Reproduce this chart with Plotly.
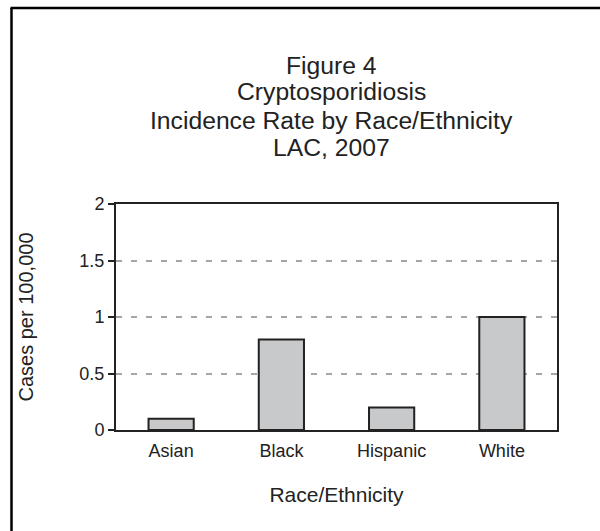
import plotly.graph_objects as go

categories = ["Asian", "Black", "Hispanic", "White"]
rates = [0.1, 0.8, 0.2, 1.0]
y_ticks = [0, 0.5, 1, 1.5, 2]
y_tick_labels = ["0", "0.5", "1", "1.5", "2"]
title_lines = ["Figure 4", "Cryptosporidiosis", "Incidence Rate by Race/Ethnicity", "LAC, 2007"]
title_line_y = [65, 92, 120, 147]  # pixel centers of the title lines

W, H = 600, 531
L, R, T, B = 116, 557, 204, 430
pw, ph = R - L, B - T

def px(x):
    return (x - L) / pw

def py(y):
    return (B - y) / ph

FONT = "Liberation Sans, Arial, sans-serif"
TXT = "#222222"

fig = go.Figure(
    go.Bar(
        x=categories,
        y=rates,
        width=0.41,
        marker=dict(color="#c8c9cb", line=dict(color="#222222", width=2)),
    )
)

annotations = [
    dict(text=t, x=px(331), y=py(yc), xref="paper", yref="paper",
         xanchor="center", yanchor="middle", showarrow=False,
         font=dict(size=24.7, family=FONT, color=TXT))
    for t, yc in zip(title_lines, title_line_y)
]

fig.update_layout(
    width=W,
    height=H,
    margin=dict(l=L, r=W - R, t=T, b=H - B),
    paper_bgcolor="white",
    plot_bgcolor="white",
    showlegend=False,
    font=dict(family=FONT, color=TXT),
    annotations=annotations,
    xaxis=dict(
        showline=True,
        linecolor="#222222",
        linewidth=2,
        mirror=True,
        ticks="",
        showgrid=False,
        tickfont=dict(size=18, color=TXT),
        ticklabelstandoff=3,
        title=dict(text="Race/Ethnicity", font=dict(size=21, color=TXT), standoff=28),
    ),
    yaxis=dict(
        range=[0, 2],
        tickvals=y_ticks,
        ticktext=y_tick_labels,
        showline=True,
        linecolor="#222222",
        linewidth=2,
        mirror=True,
        ticks="outside",
        ticklen=6,
        tickwidth=2,
        tickcolor="#222222",
        showgrid=True,
        gridcolor="#a6a6a6",
        gridwidth=2,
        griddash="6px,9px",
        zeroline=False,
        tickfont=dict(size=18, color=TXT),
        title=dict(text="Cases per 100,000", font=dict(size=20, color=TXT), standoff=40),
    ),
    shapes=[
        dict(type="line", xref="paper", yref="paper",
             x0=px(11.5), x1=px(11.5), y0=py(540), y1=py(8),
             line=dict(color="black", width=2.5)),
        dict(type="line", xref="paper", yref="paper",
             x0=px(10.5), x1=px(610), y0=py(8), y1=py(8),
             line=dict(color="black", width=2.5)),
    ],
)

fig.write_html("out.html", config={"displayModeBar": False},
               post_script="document.body.style.margin='0';")
